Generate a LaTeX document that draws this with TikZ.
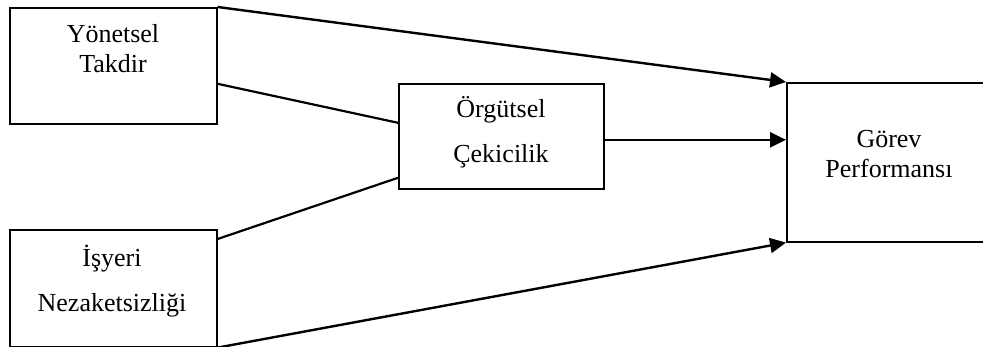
\documentclass[tikz,border=0pt]{standalone}
\usepackage{fontspec}
\setmainfont{Liberation Serif}
\usetikzlibrary{arrows.meta}
\begin{document}
\begin{tikzpicture}[x=1pt,y=-1pt,
  box/.style={draw,line width=1.6pt,inner sep=0pt,anchor=north west},
  txt/.style={anchor=base,inner sep=0pt,font=\fontsize{26}{30}\selectfont},
  conn/.style={line width=2.2pt},
  arr/.style={line width=2.4pt,-{Triangle[length=16pt,width=15pt]}}]
\useasboundingbox (0,0) rectangle (983,347);
\node[box,minimum width=207pt,minimum height=116pt] (b1) at (9,7) {};
\node[box,minimum width=207pt,minimum height=117pt] (b2) at (9,229) {};
\node[box,minimum width=205pt,minimum height=105pt] (m) at (398,83) {};
\node[box,minimum width=206pt,minimum height=159pt] (r) at (786,82) {};
\node[txt] (t1a) at (113,43) {Yönetsel};
\node[txt] (t1b) at (113,73) {Takdir};
\node[txt] (t2a) at (112,267) {İşyeri};
\node[txt] (t2b) at (112,312) {Nezaketsizliği};
\node[txt] (tma) at (501,118) {Örgütsel};
\node[txt] (tmb) at (501,163) {Çekicilik};
\node[txt] (tra) at (889,148) {Görev};
\node[txt] (trb) at (889,178) {Performansı};
\draw[arr] (b1.north east) -- (r.north west);
\draw[conn] ([yshift=-18pt]b1.east) -- ([yshift=13.5pt]m.west);
\draw[conn] ([yshift=-10pt]b2.north east) -- ([yshift=-41.5pt]m.west);
\draw[arr] ([yshift=-3.5pt]m.east) -- ([yshift=22.5pt]r.west);
\draw[arr] (b2.south east) -- (r.south west);
\end{tikzpicture}
\end{document}
